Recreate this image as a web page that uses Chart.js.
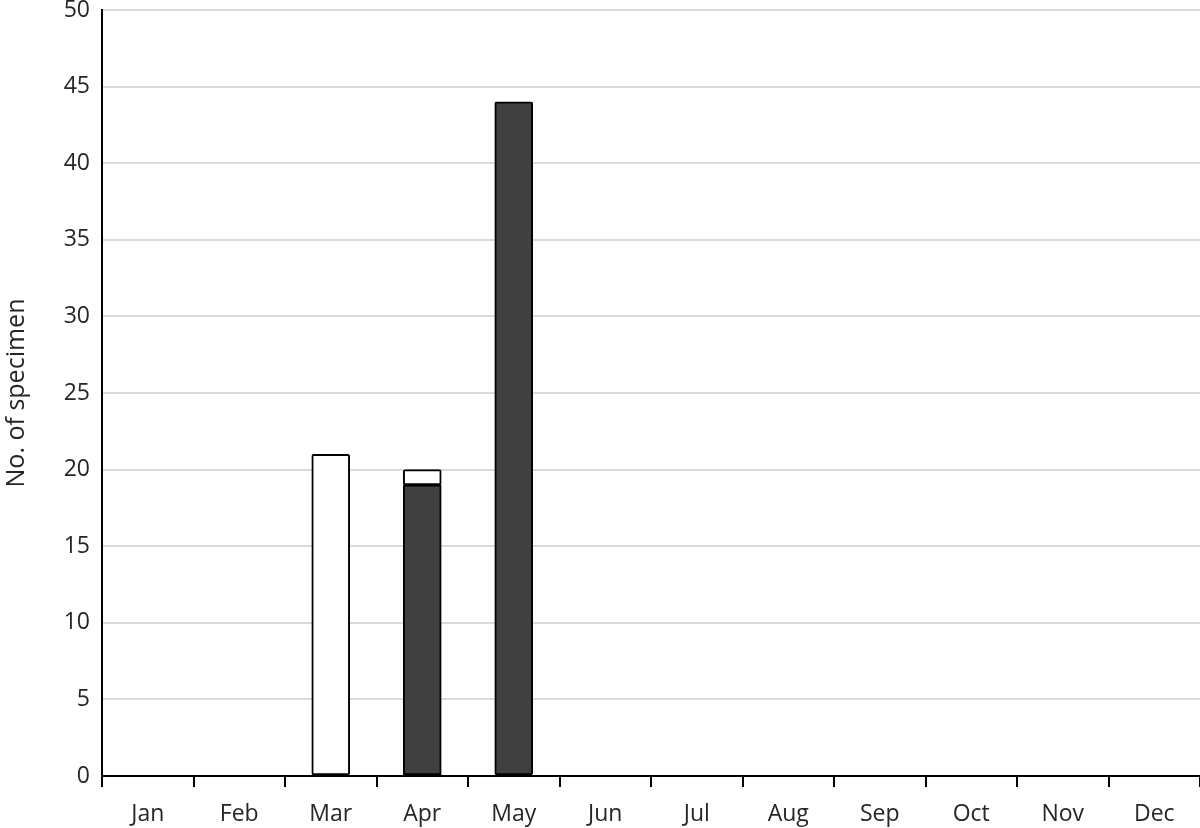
<!DOCTYPE html>
<html>
<head>
<meta charset="utf-8">
<script src="https://cdn.jsdelivr.net/npm/chart.js@4/dist/chart.umd.min.js"></script>
<style>
    html, body { margin: 0; padding: 0; background: #fff; }
    #wrap { width: 1200px; height: 828px; }
</style>
</head>
<body>
<div id="wrap"><canvas id="chart" width="1200" height="828"></canvas></div>
<script>
// Data
const months = ['Jan', 'Feb', 'Mar', 'Apr', 'May', 'Jun', 'Jul', 'Aug', 'Sep', 'Oct', 'Nov', 'Dec'];
const darkCounts = [0, 0, 0, 19, 44, 0, 0, 0, 0, 0, 0, 0];
const whiteCounts = [0, 0, 21, 1, 0, 0, 0, 0, 0, 0, 0, 0];
const yMin = 0;
const yMax = 50;
const yStep = 5;

const fontFamily = "'Open Sans', 'Noto Sans', sans-serif";
const textColor = '#262626';

// empty months get no outline and no fill
const outline = ctx => (ctx.raw ? 2 : 0);
const fillOf = color => ctx => (ctx.raw ? color : 'rgba(0,0,0,0)');

new Chart(document.getElementById('chart'), {
    type: 'bar',
    data: {
        labels: months,
        datasets: [
            {
                label: 'dark',
                data: darkCounts,
                backgroundColor: fillOf('#404040'),
                borderColor: '#000',
                borderWidth: outline,
                borderSkipped: false,
                borderRadius: 2
            },
            {
                label: 'white',
                data: whiteCounts,
                backgroundColor: fillOf('#fff'),
                borderColor: '#000',
                borderWidth: outline,
                borderSkipped: false,
                borderRadius: 2
            }
        ]
    },
    options: {
        responsive: false,
        animation: false,
        layout: { padding: { top: 10, right: 0, left: 0, bottom: 0 } },
        datasets: { bar: { barThickness: 38 } },
        plugins: {
            legend: { display: false },
            tooltip: { enabled: false }
        },
        scales: {
            x: {
                stacked: true,
                border: { color: '#000', width: 2 },
                grid: {
                    offset: true,
                    drawOnChartArea: false,
                    drawTicks: true,
                    tickLength: 11,
                    color: '#000',
                    lineWidth: 2
                },
                ticks: {
                    color: textColor,
                    padding: 14,
                    maxRotation: 0,
                    font: { family: fontFamily, size: 23 }
                },
                afterFit: scale => { scale.height = 52; }
            },
            y: {
                stacked: true,
                min: yMin,
                max: yMax,
                border: { color: '#000', width: 2 },
                grid: {
                    color: '#d9d9d9',
                    lineWidth: 2,
                    drawTicks: false
                },
                ticks: {
                    stepSize: yStep,
                    color: textColor,
                    padding: 12,
                    font: { family: fontFamily, size: 23 }
                },
                title: {
                    display: true,
                    text: 'No. of specimen',
                    color: textColor,
                    padding: { top: 2, bottom: 0 },
                    font: { family: fontFamily, size: 25 }
                },
                afterFit: scale => {
                    scale.width = 102;
                    // let the top tick label overhang so the axis starts near the top edge
                    scale.paddingTop = 0;
                    scale.paddingBottom = 0;
                }
            }
        }
    }
});
</script>
</body>
</html>
